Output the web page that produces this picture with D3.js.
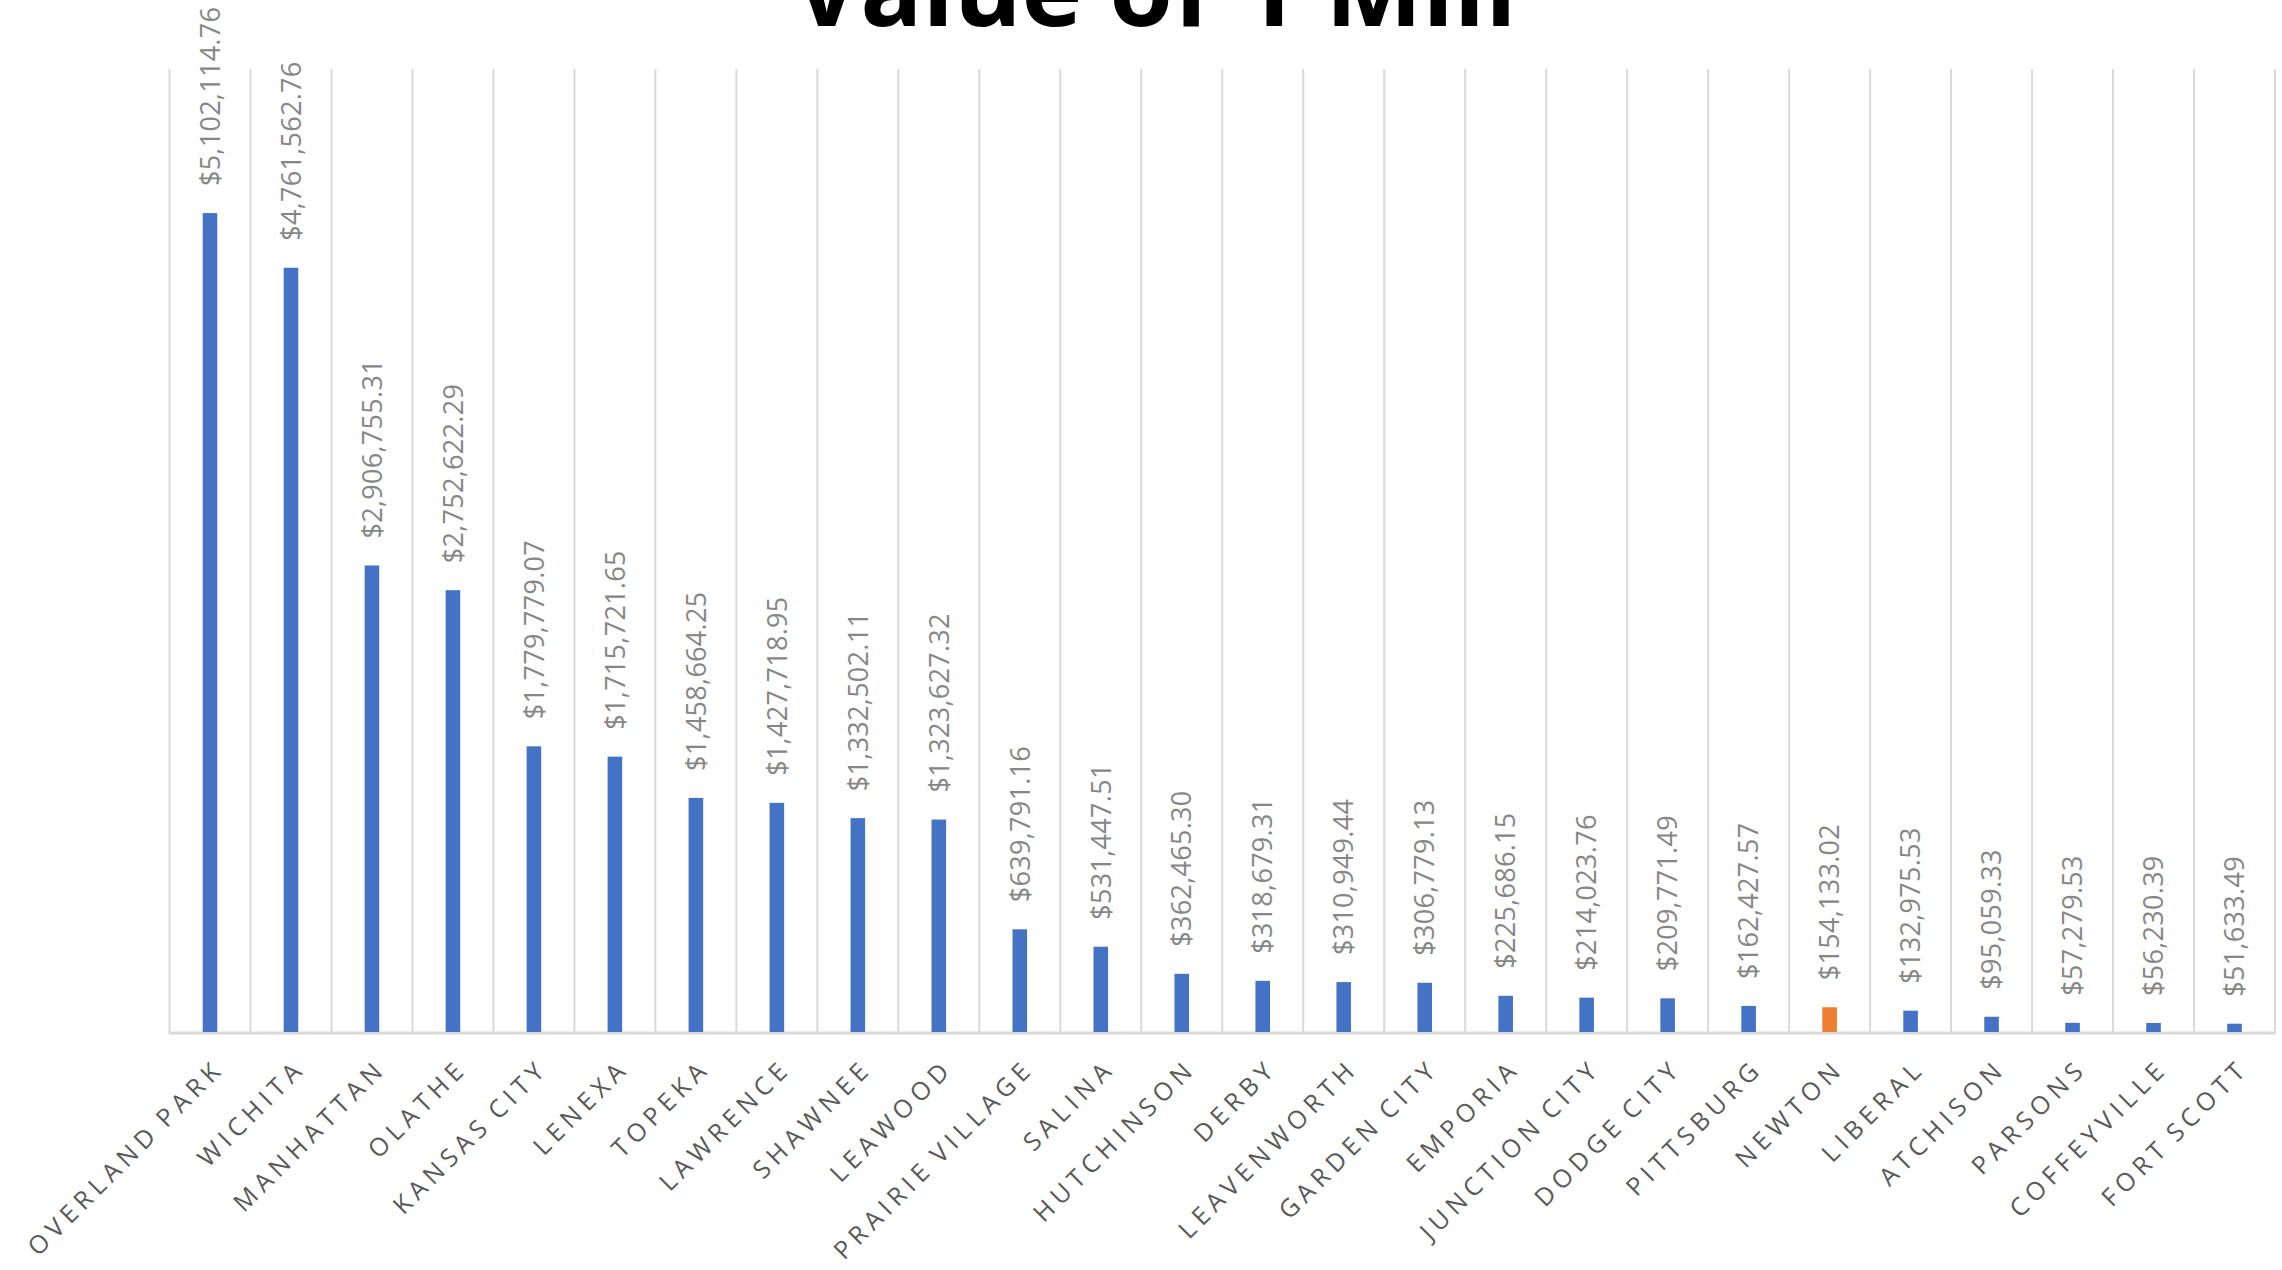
<!DOCTYPE html>
<html>
<head>
<meta charset="utf-8">
<script src="https://cdn.jsdelivr.net/npm/d3@7"></script>
<style>
  html, body { margin: 0; padding: 0; background: #ffffff; }
  svg { display: block; }
</style>
</head>
<body>
<svg id="chart" width="2282" height="1270"></svg>
<script>
const titleText = "Value of 1 Mill";
const cities = ["OVERLAND PARK","WICHITA","MANHATTAN","OLATHE","KANSAS CITY","LENEXA","TOPEKA","LAWRENCE","SHAWNEE","LEAWOOD","PRAIRIE VILLAGE","SALINA","HUTCHINSON","DERBY","LEAVENWORTH","GARDEN CITY","EMPORIA","JUNCTION CITY","DODGE CITY","PITTSBURG","NEWTON","LIBERAL","ATCHISON","PARSONS","COFFEYVILLE","FORT SCOTT"];
const millValues = [5102114.76,4761562.76,2906755.31,2752622.29,1779779.07,1715721.65,1458664.25,1427718.95,1332502.11,1323627.32,639791.16,531447.51,362465.30,318679.31,310949.44,306779.13,225686.15,214023.76,209771.49,162427.57,154133.02,132975.53,95059.33,57279.53,56230.39,51633.49];
const highlightCity = "NEWTON";
const yMax = 6000000;

(function () {
const svg = d3.select("#chart");
const pLeft = 169.5, pRight = 2275, pTop = 69, pBottom = 1032;

const x = d3.scaleBand().domain(cities).range([pLeft, pRight]).paddingInner(0).paddingOuter(0);
const y = d3.scaleLinear().domain([0, yMax]).range([pBottom, pTop]);

// vertical gridlines at category boundaries
const bounds = cities.map(c => x(c)).concat([x(cities[cities.length-1]) + x.bandwidth()]);
svg.append("g").selectAll("line").data(bounds).join("line")
  .attr("x1", d => d).attr("x2", d => d)
  .attr("y1", pTop).attr("y2", pBottom)
  .attr("stroke", "#d9d9d9").attr("stroke-width", 2);

// axis line
svg.append("line")
  .attr("x1", pLeft - 1).attr("x2", pRight + 1)
  .attr("y1", pBottom + 1).attr("y2", pBottom + 1)
  .attr("stroke", "#d9d9d9").attr("stroke-width", 3);

const data = cities.map((c, i) => ({ city: c, value: millValues[i] }));
const bw = x.bandwidth() * 0.18;

svg.append("g").selectAll("rect").data(data).join("rect")
  .attr("x", d => x(d.city) + x.bandwidth() / 2 - bw / 2)
  .attr("width", bw)
  .attr("y", d => y(d.value))
  .attr("height", d => pBottom - y(d.value))
  .attr("fill", d => d.city === highlightCity ? "#ED7D31" : "#4472C4");

const fmt = d3.format("$,.2f");
svg.append("g").selectAll("text").data(data).join("text")
  .attr("transform", d => `translate(${x(d.city) + x.bandwidth() / 2},${y(d.value) - 27}) rotate(-90)`)
  .attr("dy", "0.36em")
  .attr("text-anchor", "start")
  .attr("font-family", "Open Sans, sans-serif")
  .attr("font-size", 27)
  .attr("letter-spacing", 0.3)
  .attr("fill", "#868686")
  .text(d => fmt(d.value));

// category labels
svg.append("g").selectAll("text").data(cities).join("text")
  .attr("transform", d => `translate(${x(d) + x.bandwidth() / 2 + 3},${1057}) rotate(-45)`)
  .attr("dy", "0.72em")
  .attr("text-anchor", "end")
  .attr("font-family", "Open Sans, sans-serif")
  .attr("font-size", 25)
  .attr("letter-spacing", 5.5)
  .attr("word-spacing", -4)
  .attr("fill", "#595959")
  .text(d => d);

// title (top part cut off in the original image)
svg.append("text")
  .attr("x", 1155).attr("y", 26)
  .attr("text-anchor", "middle")
  .attr("font-family", "Open Sans, sans-serif")
  .attr("font-weight", 700)
  .attr("font-size", 103)
  .attr("fill", "#000000")
  .text(titleText);
})();
</script>
</body>
</html>
